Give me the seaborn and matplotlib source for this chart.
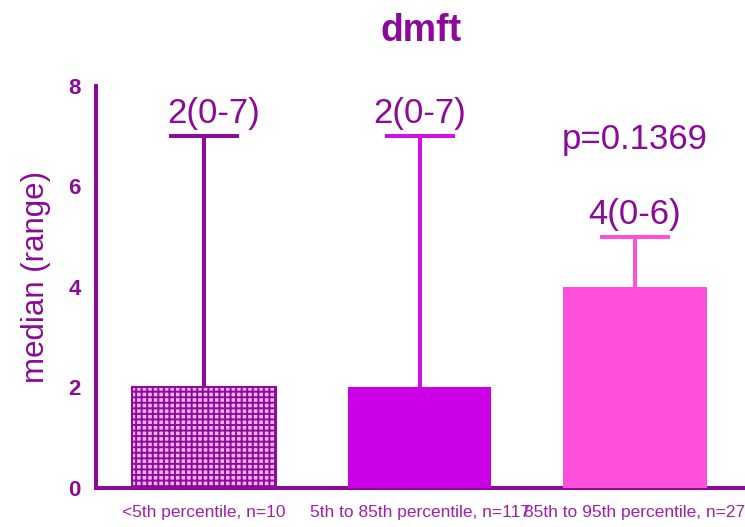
import matplotlib
matplotlib.use("Agg")
import matplotlib.pyplot as plt
import seaborn as sns
import pandas as pd

categories = ["<5th percentile, n=10", "5th to 85th percentile, n=117", "85th to 95th percentile, n=27"]
medians = [2, 2, 4]
mins = [0, 0, 0]
maxs = [7, 7, 5]
labels = ["2(0-7)", "2(0-7)", "4(0-6)"]
p_text = "p=0.1369"
title = "dmft"
ylabel = "median (range)"
yticks = [0, 2, 4, 6, 8]

sns.set_theme(style="white")
plt.rcParams['font.family'] = ['Liberation Sans', 'DejaVu Sans']
plt.rcParams['hatch.linewidth'] = 1.4

axis_col = "#8B0A99"
bar_cols = ["#F2B4F0", "#CC00E6", "#FF50DC"]
err_cols = ["#8E0C9C", "#D010E6", "#FF50DC"]
label_dx = [0.045, 0.0, 0.0]

df = pd.DataFrame({"cat": categories, "median": medians})

fig = plt.figure(figsize=(7.45, 5.27), dpi=100)
ax = fig.add_axes([0.1292, 0.074, 0.8707, 0.763])

sns.barplot(data=df, x="cat", y="median", hue="cat", palette=bar_cols,
            width=0.668, ax=ax, legend=False, saturation=1, linewidth=0)

for i, patch in enumerate(ax.patches):
    patch.set_zorder(3)
    if i == 0:
        patch.set_hatch("+++")
        patch.set_edgecolor(err_cols[0])
        patch.set_linewidth(1.5)

for i in range(len(categories)):
    _, caps, _ = ax.errorbar(i, medians[i], yerr=[[medians[i] - medians[i]], [maxs[i] - medians[i]]],
                             fmt="none", ecolor=err_cols[i], elinewidth=2.9, capsize=25,
                             capthick=2.9, zorder=2)
    if len(caps) > 1:
        caps[0].set_visible(False)
    ax.text(i + label_dx[i], maxs[i] + 0.12, labels[i], ha="center", va="bottom",
            fontsize=25, color=axis_col)

ax.text(2, 6.93, p_text, ha="center", va="center", fontsize=25, color=axis_col)

ax.set_xlim(-0.5, 2.51)
ax.set_ylim(0, 8)
ax.set_yticks(yticks)
ax.set_yticklabels([str(t) for t in yticks], fontweight="bold", fontsize=16, color=axis_col)
ax.set_xlabel("")
ax.set_ylabel(ylabel, fontsize=22.5, color=axis_col)
ax.yaxis.set_label_coords(-0.069, 0.525)
ax.set_title(title, fontsize=27, fontweight="bold", color=axis_col, pad=32)

for s in ["top", "right"]:
    ax.spines[s].set_visible(False)
for s in ["left", "bottom"]:
    ax.spines[s].set_color(axis_col)
    ax.spines[s].set_linewidth(2.9)
ax.tick_params(axis="both", direction="out", length=7, width=2.2, color=axis_col)
ax.tick_params(axis="x", labelsize=12.5, labelcolor="#A020A8", pad=5)
ax.tick_params(axis="y", pad=4)
ax.set_facecolor("white")

fig.savefig("out.png", dpi=100, facecolor="white")
